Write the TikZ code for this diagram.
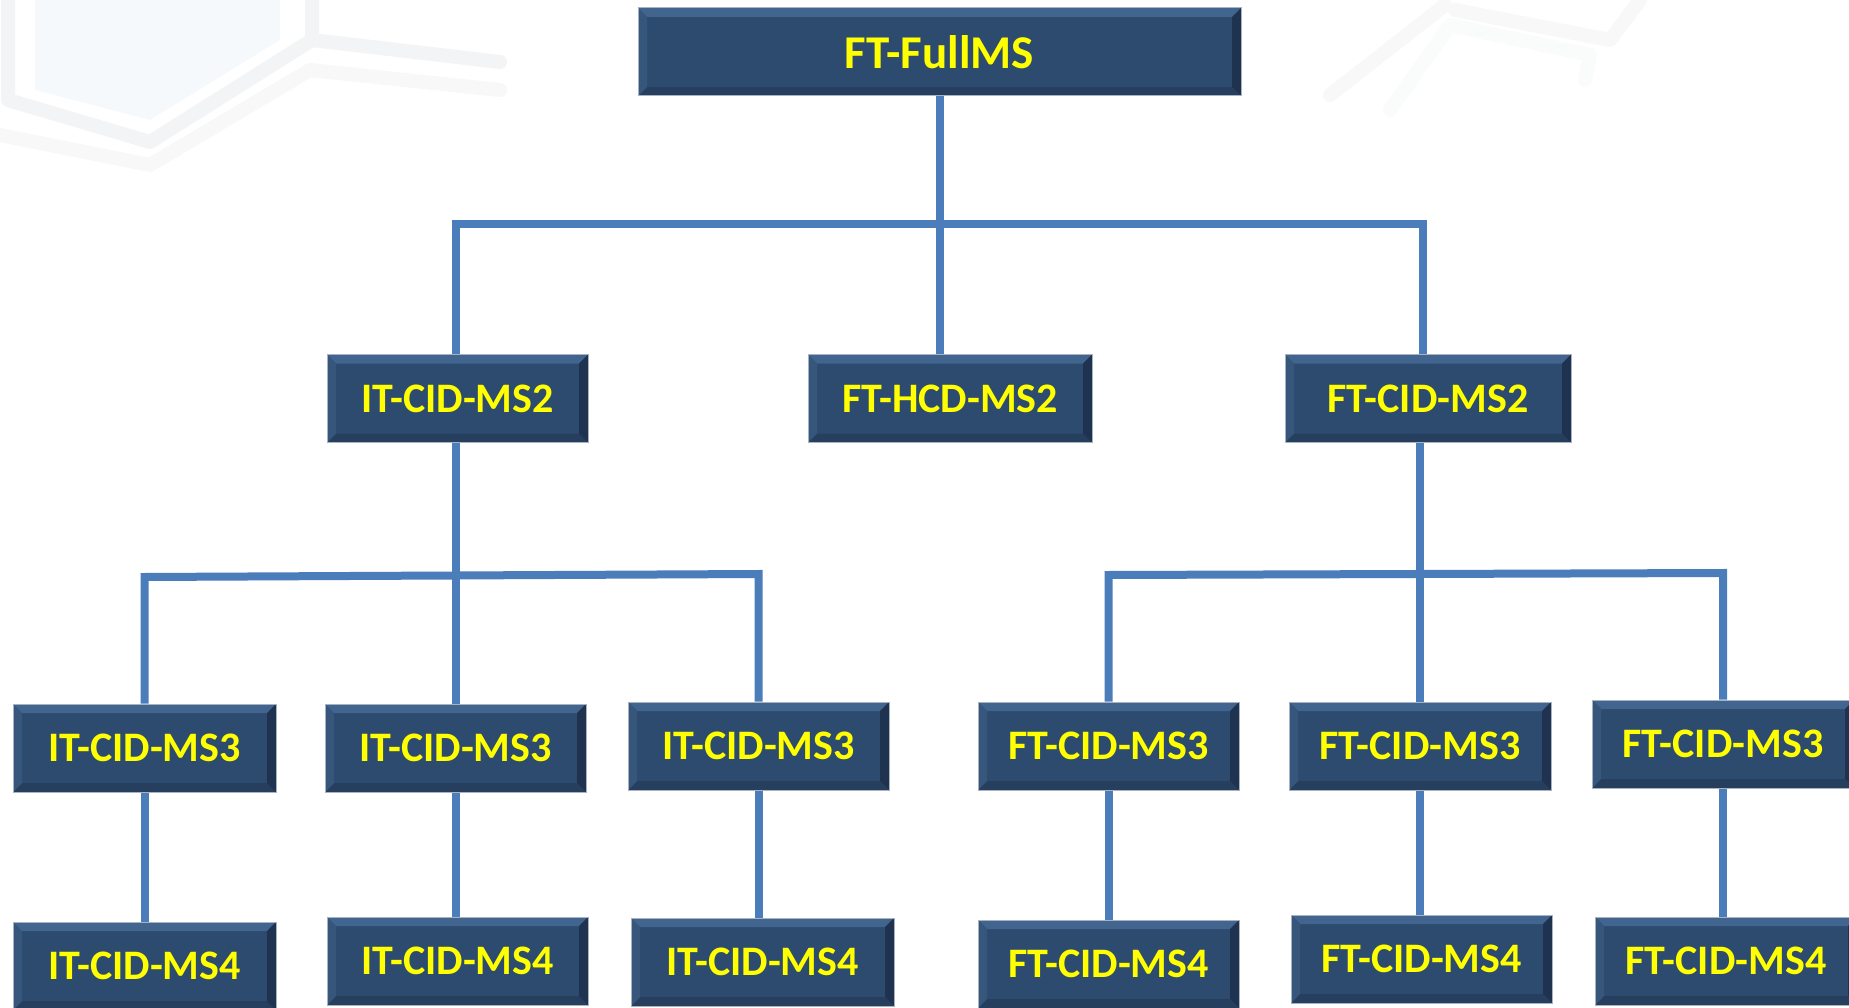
\documentclass[tikz,border=0pt]{standalone}
\usepackage{fontspec}
\newfontfamily\carl{Carlito}
\usetikzlibrary{calc}
\definecolor{boxc}{HTML}{2D4A6F}
\definecolor{bevtop}{HTML}{42658F}
\definecolor{bevleft}{HTML}{37567C}
\definecolor{bevbot}{HTML}{263F5F}
\definecolor{bevright}{HTML}{1F3350}
\definecolor{bordc}{HTML}{A8B2C0}
\definecolor{linec}{HTML}{4A7DBA}
\definecolor{txtc}{HTML}{FFFF00}
\definecolor{hexc}{HTML}{F3F4F5}
\definecolor{hexb}{HTML}{EEF5F9}
\pgfdeclarelayer{bg}
\pgfdeclarelayer{lines}
\pgfsetlayers{bg,lines,main}
\tikzset{
  bx/.style={draw=bordc, line width=1pt, fill=boxc, text=txtc,
    font=\carl\bfseries\fontsize{42}{50}\selectfont, inner sep=0pt,
    minimum height=88pt,
    path picture={
      \coordinate (@nw) at (path picture bounding box.north west);
      \coordinate (@ne) at (path picture bounding box.north east);
      \coordinate (@sw) at (path picture bounding box.south west);
      \coordinate (@se) at (path picture bounding box.south east);
      \fill[bevtop] (@nw) -- (@ne) -- ([shift={(-9pt,-9pt)}]@ne) -- ([shift={(9pt,-9pt)}]@nw) -- cycle;
      \fill[bevbot] (@sw) -- (@se) -- ([shift={(-9pt,9pt)}]@se) -- ([shift={(9pt,9pt)}]@sw) -- cycle;
      \fill[bevleft] (@nw) -- (@sw) -- ([shift={(9pt,9pt)}]@sw) -- ([shift={(9pt,-9pt)}]@nw) -- cycle;
      \fill[bevright] (@ne) -- (@se) -- ([shift={(-9pt,9pt)}]@se) -- ([shift={(-9pt,-9pt)}]@ne) -- cycle;
    }},
  topbx/.style={bx, font=\carl\bfseries\fontsize{47}{56}\selectfont},
  conn/.style={draw=linec, line width=8pt},
  hexline/.style={draw=hexc, line width=14pt, line cap=round, line join=round}
}
\begin{document}
\begin{tikzpicture}[x=1pt,y=-1pt]
\useasboundingbox (0,0) rectangle (1849,1008);
\begin{pgfonlayer}{bg}
\fill[white] (0,0) rectangle (1849,1008);
\fill[hexb, opacity=0.5] (35,0) -- (280,0) -- (280,40) -- (150,120) -- (35,90) -- cycle;
\draw[hexline] (8,0) -- (8,100) -- (150,142) -- (312,40) -- (312,0);
\draw[hexline] (312,40) -- (500,62);
\draw[hexline, draw=hexc!60] (0,135) -- (150,165) -- (310,70) -- (500,90);
\draw[hexline, draw=hexc!60] (1330,95) -- (1445,5);
\draw[hexline, draw=hexc!60] (1455,10) -- (1610,40) -- (1640,0);
\draw[hexline, draw=hexc!40] (1390,110) -- (1450,25) -- (1590,55) -- (1585,80);
\end{pgfonlayer}

% nodes
\node[topbx, minimum width=603pt] (top) at (939.5,52) {FT-FullMS};

\node[bx, minimum width=261pt] (l2a) at (457.5,398.5) {IT-CID-MS2};
\node[bx, minimum width=284pt] (l2b) at (950,398.5) {FT-HCD-MS2};
\node[bx, minimum width=286pt] (l2c) at (1428,398.5) {FT-CID-MS2};

\node[bx, minimum width=263pt] (i3a) at (144.5,748) {IT-CID-MS3};
\node[bx, minimum width=261pt] (i3b) at (455.5,748) {IT-CID-MS3};
\node[bx, minimum width=261pt] (i3c) at (758.5,746) {IT-CID-MS3};
\node[bx, minimum width=261pt] (f3a) at (1108.5,746) {FT-CID-MS3};
\node[bx, minimum width=262pt] (f3b) at (1420,746) {FT-CID-MS3};
\node[bx, minimum width=262pt] (f3c) at (1723,744) {FT-CID-MS3};

\node[bx, minimum width=263pt] (i4a) at (144.5,966) {IT-CID-MS4};
\node[bx, minimum width=261pt] (i4b) at (457.5,961) {IT-CID-MS4};
\node[bx, minimum width=263pt] (i4c) at (762.5,962) {IT-CID-MS4};
\node[bx, minimum width=261pt] (f4a) at (1108.5,964) {FT-CID-MS4};
\node[bx, minimum width=261pt] (f4b) at (1421.5,959) {FT-CID-MS4};
\node[bx, minimum width=262pt] (f4c) at (1726,961) {FT-CID-MS4};

\coordinate (bar1) at (0,224);
\coordinate (bar2) at (0,575);
\coordinate (bar3) at (0,574);

\begin{pgfonlayer}{lines}
% level 1 -> 2
\draw[conn] (top.south) -- (top.south |- l2b.north);
\draw[conn] ([xshift=-1.5pt]l2a.north) -- ([xshift=-1.5pt]l2a.north |- bar1)
  -- ([xshift=-5pt]l2c.north |- bar1) -- ([xshift=-5pt]l2c.north);
% level 2 -> 3 (left)
\draw[conn] ([xshift=-1.5pt]l2a.south) -- ([xshift=-1.5pt]l2a.south |- bar2);
\draw[conn] (i3a.north) -- ([yshift=-2pt]i3a.north |- bar2) -- ([yshift=1pt]i3c.north |- bar2) -- (i3c.north);
\draw[conn] (i3b.north) -- (i3b.north |- bar2);
% level 2 -> 3 (right)
\draw[conn] ([xshift=-8pt]l2c.south) -- ([xshift=-8pt]l2c.south |- bar3);
\draw[conn] (f3a.north) -- ([yshift=-1pt]f3a.north |- bar3) -- ([yshift=1pt]f3c.north |- bar3) -- (f3c.north);
\draw[conn] (f3b.north) -- (f3b.north |- bar3);
% level 3 -> 4
\draw[conn] (i3a.south) -- (i3a.south |- i4a.north);
\draw[conn] (i3b.south) -- (i3b.south |- i4b.north);
\draw[conn] (i3c.south) -- (i3c.south |- i4c.north);
\draw[conn] (f3a.south) -- (f3a.south |- f4a.north);
\draw[conn] (f3b.south) -- (f3b.south |- f4b.north);
\draw[conn] (f3c.south) -- (f3c.south |- f4c.north);
\end{pgfonlayer}
\end{tikzpicture}
\end{document}
